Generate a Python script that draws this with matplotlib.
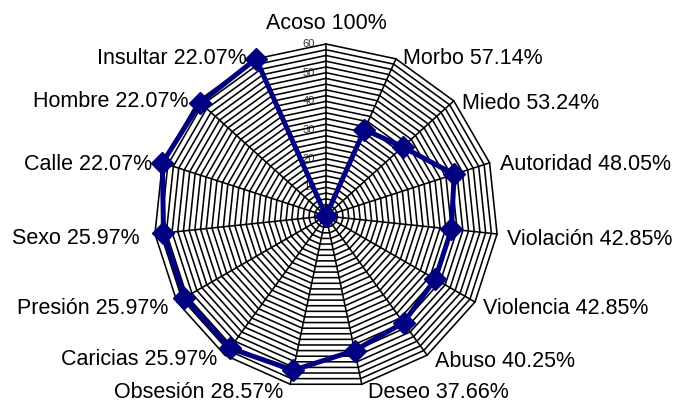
import numpy as np
import matplotlib
matplotlib.use("Agg")
import matplotlib.pyplot as plt

plt.rcParams['font.family'] = ['Liberation Sans', 'DejaVu Sans']

# Survey terms, their percentage labels and the plotted scores
categories = ["Acoso", "Morbo", "Miedo", "Autoridad", "Violación", "Violencia",
              "Abuso", "Deseo", "Obsesión", "Caricias", "Presión", "Sexo",
              "Calle", "Hombre", "Insultar"]
percent_labels = ["100%", "57.14%", "53.24%", "48.05%", "42.85%", "42.85%",
                  "40.25%", "37.66%", "28.57%", "25.97%", "25.97%", "25.97%",
                  "22.07%", "22.07%", "22.07%"]
scores = [0, 33, 36, 47, 44, 44, 46, 48, 55, 57, 57, 57, 60, 59, 60]
radial_ticks = [10, 20, 30, 40, 50, 60]

r_max = 60
ring_step = 2

# label placement: alignment and offset (pixels) from each outer vertex
label_align = ["center", "left", "left", "left", "left", "left", "left", "left",
               "right", "right", "right", "right", "right", "right", "right"]
label_offset = [(0, 16), (7, -4), (8, -7), (10, -6), (10, -10), (8, -11),
                (8, -11), (6, -13), (-7, -13), (-8, -9), (-9, -11), (-15, -9),
                (-10, -6), (-10, -5), (-9, -4)]

n = len(categories)
theta = np.arange(n) * 2 * np.pi / n  # clockwise from the top


def to_xy(r, t):
    return np.asarray(r) * np.sin(t), np.asarray(r) * np.cos(t)


fig = plt.figure(figsize=(6.75, 4.02), dpi=100)
ax = fig.add_axes([0.22815, 0.03234, 0.50963, 0.85572])
ax.set_xlim(-r_max, r_max)
ax.set_ylim(-r_max, r_max)
ax.set_aspect("equal")
ax.axis("off")

closed = np.append(theta, theta[0])

# polygon rings
for r in np.arange(ring_step, r_max + ring_step, ring_step):
    gx, gy = to_xy(np.full(n + 1, r), closed)
    ax.plot(gx, gy, color="black", lw=1.15, zorder=2, clip_on=False,
            solid_joinstyle="miter")

# spokes
for t in theta:
    sx, sy = to_xy([0, r_max], [t, t])
    ax.plot(sx, sy, color="black", lw=1.15, zorder=2, clip_on=False)

# radial tick labels along the top spoke
for v in radial_ticks:
    ax.annotate(str(v), xy=(0, v), xytext=(-17, 1), textcoords="offset pixels",
                ha="center", va="center", fontsize=8, color="#333333", zorder=1)

# data series
vals = np.append(scores, scores[0])
px, py = to_xy(vals, closed)
ax.plot(px, py, color="#000080", lw=3.6, marker="D", markersize=11,
        markerfacecolor="#000080", markeredgecolor="#000080",
        zorder=4, clip_on=False)

# category labels
for i in range(n):
    vx, vy = to_xy(r_max, theta[i])
    dx, dy = label_offset[i]
    ax.annotate(f"{categories[i]} {percent_labels[i]}", xy=(vx, vy),
                xytext=(dx, dy), textcoords="offset pixels",
                ha=label_align[i], va="baseline", fontsize=15.5,
                color="black", zorder=5, annotation_clip=False)

fig.savefig("out.png", dpi=100)
